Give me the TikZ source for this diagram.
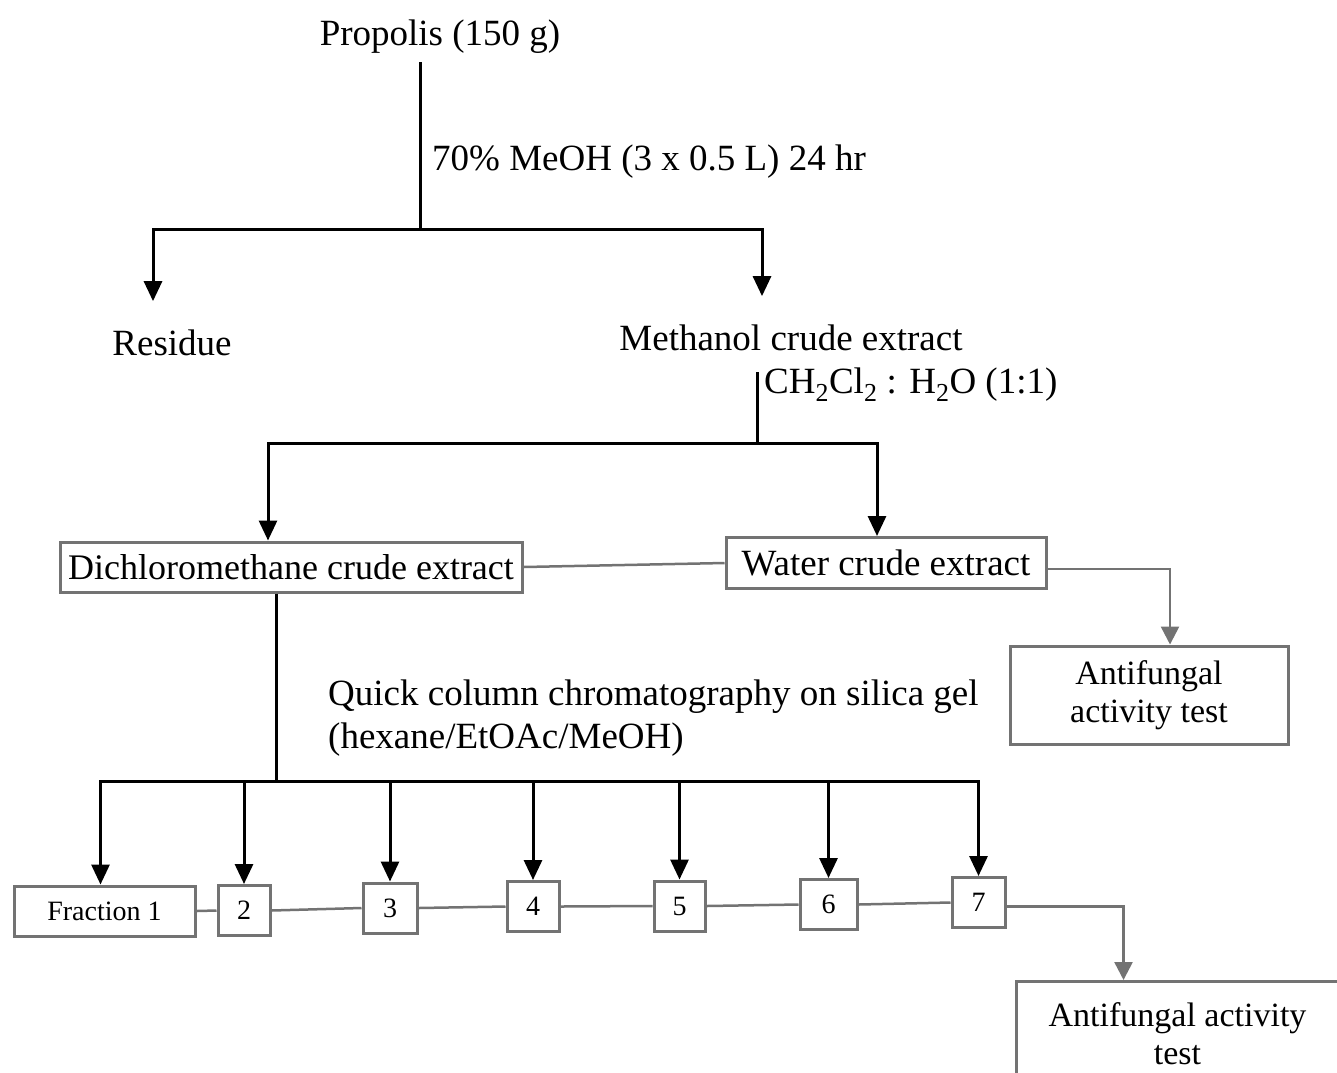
\documentclass[tikz,border=0pt]{standalone}
\usepackage{fontspec}
\setmainfont{Liberation Serif}
\usetikzlibrary{arrows.meta}
\definecolor{linkgray}{gray}{0.45}
\begin{document}
\begin{tikzpicture}[
                x=1pt, y=-1pt,
                every node/.style={inner sep=0pt, font=\fontsize{37}{42}\selectfont},
                trunk/.style={line width=3pt},
                flow/.style={line width=3pt, -{Triangle[width=18pt,length=20pt]}},
                link/.style={line width=2.5pt, draw=linkgray},
                glink/.style={link, -{Triangle[width=18pt,length=18pt]}},
                box/.style={draw=linkgray, line width=3pt},
                fracbox/.style={box, minimum height=50pt, font=\fontsize{28}{32}\selectfont}
                ]
                \useasboundingbox (0,0) rectangle (1337,1072);
                % extraction
                \node[anchor=base] (prop) at (440,45) {Propolis (150 g)};
                \coordinate (p0) at (420,62);
                \coordinate (s1) at (420,229);
                \node[anchor=base west] (meoh) at (432,170) {70\% MeOH (3 x 0.5 L) 24 hr};
                \node[anchor=base] (res) at (172,355) {Residue};
                \node[anchor=base] (meth) at (791,350) {Methanol crude extract};
                \draw[trunk] (p0) -- (s1);
                \draw[flow] (s1) -| ([xshift=-19pt,yshift=28pt]res.north);
                \draw[flow] (s1) -| ([xshift=-29pt,yshift=28pt]meth.north);
                % partition
                \coordinate (m0) at (757,372);
                \coordinate (s2) at (757,443);
                \node[anchor=base west] (solv) at (764,393) {CH\textsubscript{2}Cl\textsubscript{2} : H\textsubscript{2}O (1:1)};
                \node[box, minimum width=462pt, minimum height=50pt, font=\fontsize{36}{40}\selectfont] (dcm) at (291,567) {Dichloromethane crude extract};
                \node[box, minimum width=320pt, minimum height=51pt] (wat) at (886,563) {Water crude extract};
                \node[box, minimum width=278pt, minimum height=98pt, align=center, font=\fontsize{34}{38}\selectfont] (af1) at (1149,695) {Antifungal\\activity test};
                \draw[trunk] (m0) -- (s2);
                \draw[flow] (s2) -| ([xshift=-23pt]dcm.north);
                \draw[flow] (s2) -| ([xshift=-9pt]wat.north);
                \draw[link] (dcm.east) -- (wat.west);
                \draw[glink] ([yshift=-6pt]wat.east) -| ([xshift=21pt]af1.north);
                % column
                \coordinate (s3) at (276,781);
                \node[anchor=base west] (qcc) at (328,705) {Quick column chromatography on silica gel};
                \node[anchor=base west] (hex) at (328,748) {(hexane/EtOAc/MeOH)};
                \draw[trunk] (dcm.south -| s3) -- (s3);
                \node[fracbox, minimum width=181pt] (f1) at (104.5,911) {Fraction 1};
                \foreach \n/\x/\y/\w in {2/244/910.5/52, 3/390/908/54, 4/533/906.5/52, 5/679.5/906/51, 6/828.5/904.5/57, 7/978.5/902.5/53}
                    \node[fracbox, minimum width=\w pt] (f\n) at (\x,\y) {\n};
                \draw[flow] (s3) -| ([xshift=-4pt]f1.north);
                \foreach \n in {2,...,7}
                    \draw[flow] (s3) -| (f\n.north);
                \foreach \a/\b in {1/2,2/3,3/4,4/5,5/6,6/7}
                    \draw[link] (f\a.east) -- (f\b.west);
                \node[box, anchor=north west, minimum width=322pt, minimum height=105pt, align=center, font=\fontsize{34}{38}\selectfont] (af2) at (1015,980) {Antifungal activity\\test};
                \draw[glink] ([yshift=-4pt]f7.east) -| ([xshift=-54pt]af2.north);
            \end{tikzpicture}
\end{document}
